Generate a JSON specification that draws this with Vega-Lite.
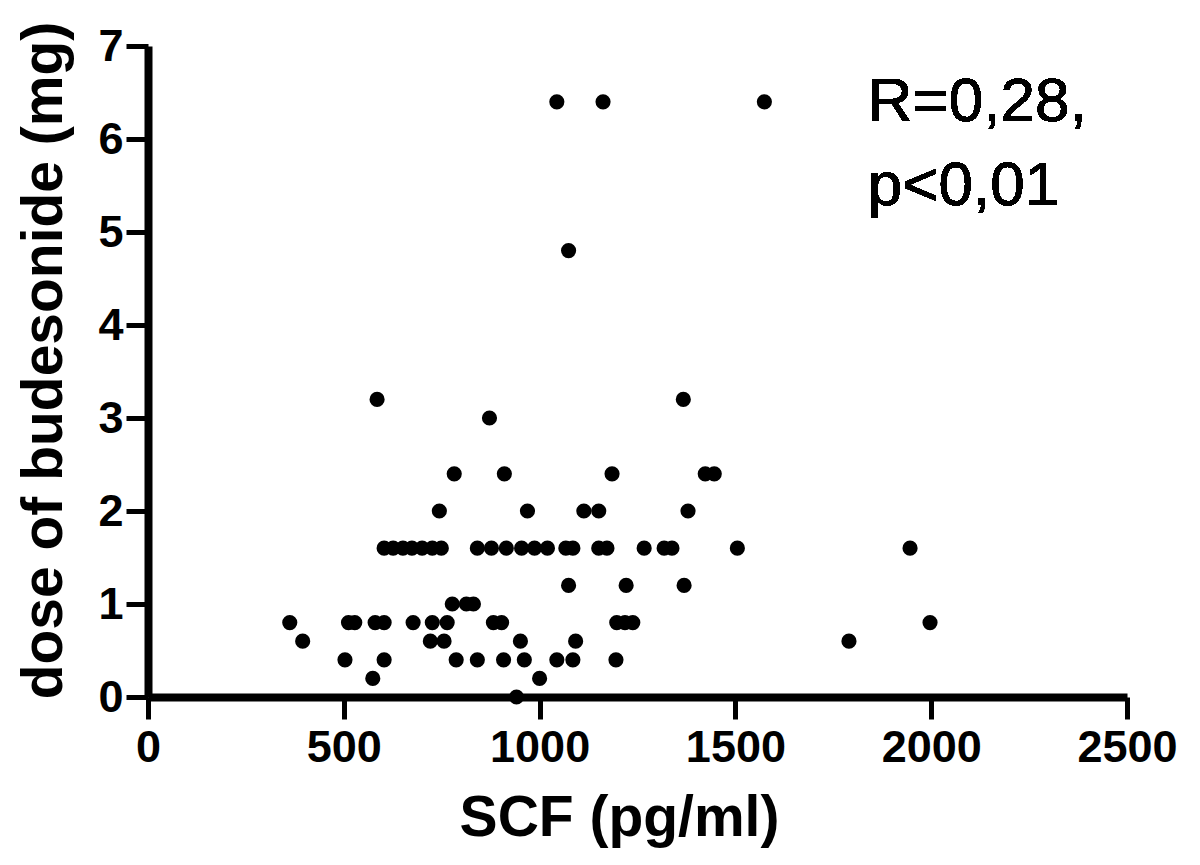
{
  "$schema": "https://vega.github.io/schema/vega-lite/v6.json",
  "autosize": "none",
  "width": 979,
  "height": 651,
  "padding": {"left": 148, "top": 46, "right": 73, "bottom": 168},
  "background": "white",
  "config": {
    "view": {"stroke": null},
    "axis": {
      "grid": false,
      "domainColor": "black",
      "domainWidth": 8,
      "tickColor": "black",
      "tickWidth": 5,
      "tickSize": 22,
      "labelColor": "black",
      "labelFont": "Liberation Sans",
      "labelFontWeight": "bold",
      "labelFontSize": 45,
      "titleColor": "black",
      "titleFont": "Liberation Sans",
      "titleFontWeight": "bold",
      "titleFontSize": 57
    }
  },
  "data": {
    "values": [
      {"scf": 1044, "dose": 6.4}, {"scf": 1162, "dose": 6.4}, {"scf": 1574, "dose": 6.4},
      {"scf": 1074, "dose": 4.8},
      {"scf": 585, "dose": 3.2}, {"scf": 1367, "dose": 3.2},
      {"scf": 872, "dose": 3.0},
      {"scf": 782, "dose": 2.4}, {"scf": 910, "dose": 2.4}, {"scf": 1185, "dose": 2.4}, {"scf": 1423, "dose": 2.4}, {"scf": 1446, "dose": 2.4},
      {"scf": 744, "dose": 2.0}, {"scf": 969, "dose": 2.0}, {"scf": 1113, "dose": 2.0}, {"scf": 1151, "dose": 2.0}, {"scf": 1379, "dose": 2.0},
      {"scf": 603, "dose": 1.6}, {"scf": 626, "dose": 1.6}, {"scf": 651, "dose": 1.6}, {"scf": 674, "dose": 1.6}, {"scf": 700, "dose": 1.6}, {"scf": 726, "dose": 1.6}, {"scf": 749, "dose": 1.6},
      {"scf": 841, "dose": 1.6}, {"scf": 877, "dose": 1.6}, {"scf": 915, "dose": 1.6}, {"scf": 954, "dose": 1.6}, {"scf": 987, "dose": 1.6}, {"scf": 1020, "dose": 1.6},
      {"scf": 1067, "dose": 1.6}, {"scf": 1085, "dose": 1.6}, {"scf": 1151, "dose": 1.6}, {"scf": 1172, "dose": 1.6}, {"scf": 1267, "dose": 1.6}, {"scf": 1318, "dose": 1.6}, {"scf": 1338, "dose": 1.6},
      {"scf": 1505, "dose": 1.6}, {"scf": 1946, "dose": 1.6},
      {"scf": 1074, "dose": 1.2}, {"scf": 1221, "dose": 1.2}, {"scf": 1369, "dose": 1.2},
      {"scf": 777, "dose": 1.0}, {"scf": 813, "dose": 1.0}, {"scf": 831, "dose": 1.0},
      {"scf": 362, "dose": 0.8}, {"scf": 512, "dose": 0.8}, {"scf": 528, "dose": 0.8}, {"scf": 580, "dose": 0.8}, {"scf": 603, "dose": 0.8}, {"scf": 677, "dose": 0.8}, {"scf": 726, "dose": 0.8}, {"scf": 764, "dose": 0.8},
      {"scf": 882, "dose": 0.8}, {"scf": 903, "dose": 0.8}, {"scf": 1197, "dose": 0.8}, {"scf": 1218, "dose": 0.8}, {"scf": 1238, "dose": 0.8}, {"scf": 1997, "dose": 0.8},
      {"scf": 395, "dose": 0.6}, {"scf": 721, "dose": 0.6}, {"scf": 756, "dose": 0.6}, {"scf": 951, "dose": 0.6}, {"scf": 1092, "dose": 0.6}, {"scf": 1790, "dose": 0.6},
      {"scf": 503, "dose": 0.4}, {"scf": 603, "dose": 0.4}, {"scf": 787, "dose": 0.4}, {"scf": 841, "dose": 0.4}, {"scf": 908, "dose": 0.4}, {"scf": 961, "dose": 0.4}, {"scf": 1044, "dose": 0.4}, {"scf": 1085, "dose": 0.4}, {"scf": 1195, "dose": 0.4},
      {"scf": 574, "dose": 0.2}, {"scf": 1000, "dose": 0.2},
      {"scf": 941, "dose": 0.0}
    ]
  },
  "layer": [
    {
      "mark": {"type": "circle", "color": "black", "opacity": 1, "size": 230},
      "encoding": {
        "x": {
          "field": "scf", "type": "quantitative",
          "scale": {"domain": [0, 2500], "nice": false, "zero": true},
          "axis": {"values": [0, 500, 1000, 1500, 2000, 2500], "format": "d", "labelPadding": 6, "title": "SCF (pg/ml)", "titlePadding": 20, "titleX": 471, "titleAlign": "center", "labelFlush": false, "labelOverlap": false}
        },
        "y": {
          "field": "dose", "type": "quantitative",
          "scale": {"domain": [0, 7], "nice": false},
          "axis": {"values": [0, 1, 2, 3, 4, 5, 6, 7], "format": "d", "labelPadding": 3, "title": "dose of budesonide (mg)", "titlePadding": 24, "titleY": 314, "titleAlign": "center", "labelFlush": false, "labelOverlap": false}
        }
      }
    },
    {
      "mark": {"type": "text", "text": "R=0,28,", "font": "Liberation Sans", "fontSize": 62, "align": "left", "baseline": "middle", "color": "black"},
      "encoding": {"x": {"datum": 1838, "type": "quantitative"}, "y": {"datum": 6.4, "type": "quantitative"}}
    },
    {
      "mark": {"type": "text", "text": "p<0,01", "font": "Liberation Sans", "fontSize": 62, "align": "left", "baseline": "middle", "color": "black"},
      "encoding": {"x": {"datum": 1838, "type": "quantitative"}, "y": {"datum": 5.5, "type": "quantitative"}}
    }
  ]
}
